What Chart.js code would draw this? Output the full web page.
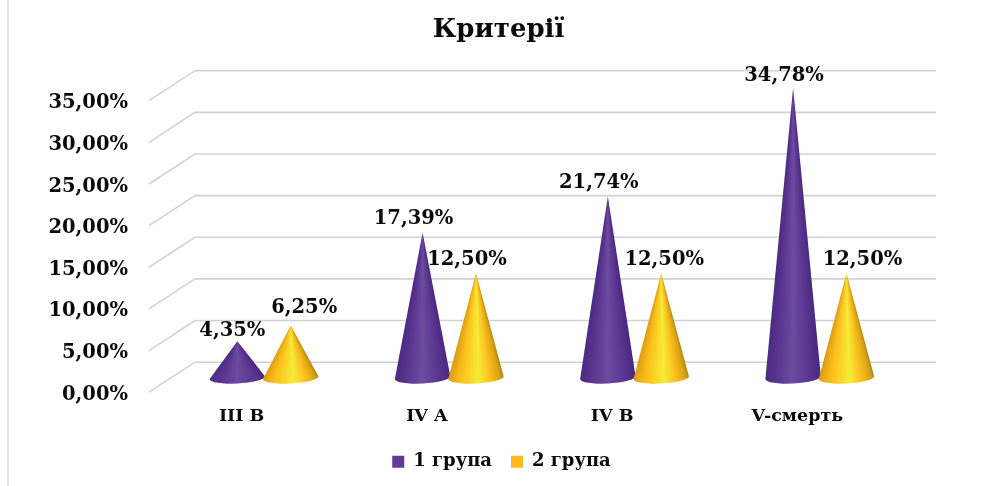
<!DOCTYPE html>
<html>
<head>
<meta charset="utf-8">
<style>html,body{margin:0;padding:0;background:#fff}canvas{display:block}</style>
<script src="https://cdn.jsdelivr.net/npm/chart.js@4/dist/chart.umd.min.js"></script>
</head>
<body>
<canvas id="c" width="984" height="486"></canvas>
<script>
const categories = ['III B', 'IV A', 'IV B', 'V-смерть'];
const group1 = [4.35, 17.39, 21.74, 34.78];
const group2 = [6.25, 12.50, 12.50, 12.50];
const seriesNames = ['1 група', '2 група'];
const titleText = 'Критерії';

const FONT = '"DejaVu Serif", serif';
const INK = '#0a0a0a';
const fmt = v => v.toFixed(2).replace('.', ',') + '%';

// 3-D look: the back wall and the plane the cones stand on
const DEPTH_X = 46, DEPTH_Y = 30, RIGHT_END = 936;
const CONE_X = 22.4, CONE_Y = 14.6;
const labelOffsets = [
  [[-5, -10.5], [-9, -14], [-9, -14], [-9, -12]],
  [[13.5, -17.5], [-9, -13.5], [3, -14], [16, -13.5]]
];
const purpleStops = [[-1, '#4c2a80'], [-0.6, '#593490'], [0, '#6c4ba0'], [0.6, '#5a3590'], [1, '#482880']];
const goldStops = [[-1, '#d89c12'], [-0.55, '#fdbe1c'], [-0.12, '#f8dc2c'], [0.1, '#f4ec38'], [0.5, '#fcc020'], [0.85, '#dca414'], [1, '#b48a14']];

function drawCone(ctx, cx, baseY, tipY, rx, stops) {
  const ry = 6, tilt = -0.05;
  ctx.save();
  ctx.beginPath();
  ctx.moveTo(cx, tipY);
  ctx.lineTo(cx + rx * Math.cos(tilt), baseY + rx * Math.sin(tilt));
  ctx.ellipse(cx, baseY, rx, ry, tilt, 0, Math.PI);
  ctx.closePath();
  ctx.clip();
  const bottom = Math.ceil(baseY + ry + 3);
  for (let y = Math.floor(tipY); y < bottom; y++) {
    const w = Math.max(0.5, Math.min(rx * 1.02, rx * (y + 0.5 - tipY) / (baseY - tipY)));
    const g = ctx.createLinearGradient(cx - w, 0, cx + w, 0);
    stops.forEach(s => g.addColorStop((s[0] + 1) / 2, s[1]));
    ctx.fillStyle = g;
    ctx.fillRect(cx - w - 1, y, 2 * w + 2, 1);
  }
  ctx.restore();
}

const conePlugin = {
  id: 'cones',
  afterLayout(chart) {
    chart.legend.left += 3;
    chart.legend.right += 3;
  },
  beforeDraw(chart) {
    const ctx = chart.ctx;
    ctx.save();
    ctx.fillStyle = '#e4e4e4';
    ctx.fillRect(7, 0, 2, chart.height);
    ctx.restore();
  },
  beforeDatasetsDraw(chart) {
    const ctx = chart.ctx, y = chart.scales.y, left = chart.chartArea.left;
    ctx.save();
    ctx.strokeStyle = '#d2d2d2';
    ctx.lineWidth = 1.6;
    y.ticks.forEach((t, i) => {
      const py = y.getPixelForTick(i);
      ctx.beginPath();
      ctx.moveTo(left, py);
      ctx.lineTo(left + DEPTH_X, py - DEPTH_Y);
      ctx.lineTo(RIGHT_END, py - DEPTH_Y);
      ctx.stroke();
    });
    const stops = [purpleStops, goldStops];
    chart.data.datasets.forEach((ds, d) => {
      chart.getDatasetMeta(d).data.forEach(bar => {
        drawCone(ctx, bar.x + CONE_X, bar.base - CONE_Y, bar.y - CONE_Y, bar.width * 0.52, stops[d]);
      });
    });
    ctx.restore();
    return false;
  },
  afterDraw(chart) {
    const ctx = chart.ctx;
    ctx.save();
    ctx.font = 'bold 19.5px ' + FONT;
    ctx.fillStyle = INK;
    ctx.textAlign = 'center';
    ctx.textBaseline = 'middle';
    chart.data.datasets.forEach((ds, d) => {
      chart.getDatasetMeta(d).data.forEach((bar, j) => {
        const o = labelOffsets[d][j];
        ctx.fillText(fmt(ds.data[j]), bar.x + CONE_X + o[0], bar.y - CONE_Y + o[1]);
      });
    });
    ctx.restore();
  }
};

new Chart(document.getElementById('c'), {
  type: 'bar',
  data: {
    labels: categories,
    datasets: [
      { label: seriesNames[0], data: group1, backgroundColor: '#5f3a96' },
      { label: seriesNames[1], data: group2, backgroundColor: '#fdbb1f' }
    ]
  },
  plugins: [conePlugin],
  options: {
    responsive: false,
    animation: false,
    devicePixelRatio: 1,
    categoryPercentage: 0.576,
    barPercentage: 1,
    layout: { padding: { left: 13, right: 0, top: 0, bottom: 5.2 } },
    plugins: {
      tooltip: { enabled: false },
      title: {
        display: true,
        text: titleText,
        color: INK,
        font: { family: FONT, size: 26, weight: 'bold' },
        padding: { top: 15, bottom: 54.5 }
      },
      legend: {
        position: 'bottom',
        labels: {
          color: INK,
          boxWidth: 12,
          boxHeight: 12,
          padding: 19,
          font: { family: FONT, size: 18, weight: 'bold' }
        }
      }
    },
    scales: {
      x: {
        grid: { display: false },
        border: { display: false },
        afterFit(s) { s.height = 41.6; },
        ticks: { color: INK, padding: 5.7, maxRotation: 0, font: { family: FONT, size: 17.5, weight: 'bold' } }
      },
      y: {
        min: 0,
        max: 35,
        grid: { display: false },
        border: { display: false },
        afterFit(s) { s.width = 136; },
        ticks: { stepSize: 5, color: INK, padding: 13, labelOffset: 2.5, callback: v => fmt(v), font: { family: FONT, size: 19.5, weight: 'bold' } }
      },
      yRight: {
        position: 'right',
        display: true,
        min: 0,
        max: 35,
        grid: { display: false },
        border: { display: false },
        ticks: { display: false },
        afterFit(s) { s.width = 94; }
      }
    }
  }
});
</script>
</body>
</html>
